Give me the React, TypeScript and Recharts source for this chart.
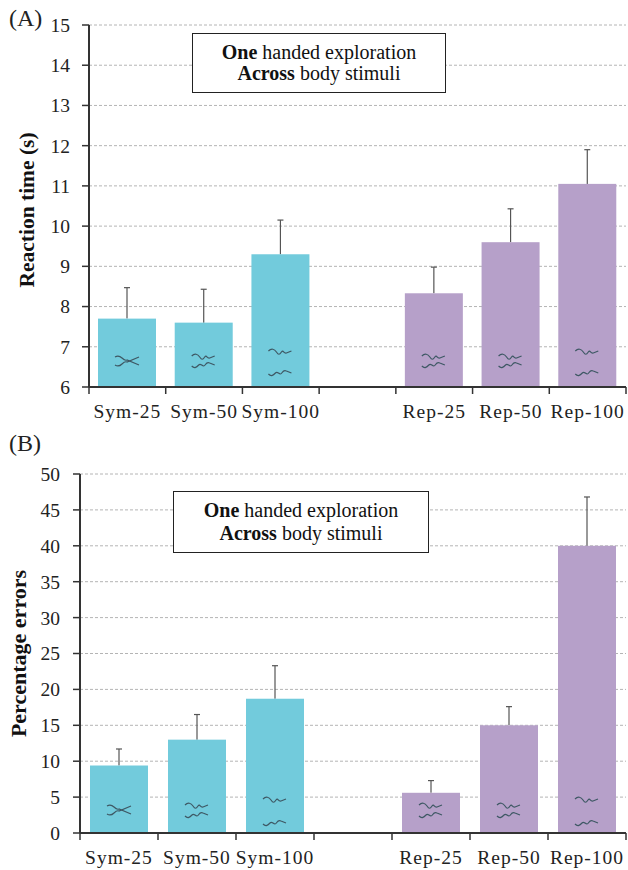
import { BarChart, Bar, XAxis, YAxis, CartesianGrid, Label } from 'recharts';

const categories = ['Sym-25', 'Sym-50', 'Sym-100', '', 'Rep-25', 'Rep-50', 'Rep-100'];
const groups = ['sym', 'sym', 'sym', null, 'rep', 'rep', 'rep'];
const stimuli = ['cross', 'near', 'far', null, 'near', 'near', 'far'];

const reactionValues = [7.7, 7.6, 9.3, null, 8.33, 9.6, 11.05];
const reactionErrors = [0.77, 0.83, 0.85, null, 0.65, 0.83, 0.85];
const reactionTicks = [6, 7, 8, 9, 10, 11, 12, 13, 14, 15];

const errorValues = [9.4, 13.0, 18.7, null, 5.6, 15.0, 40.0];
const errorErrors = [2.3, 3.5, 4.6, null, 1.7, 2.6, 6.8];
const errorTicks = [0, 5, 10, 15, 20, 25, 30, 35, 40, 45, 50];

const colors: Record<string, string> = { sym: '#72cbdc', rep: '#b6a0c9' };
const axisColor = '#333333';
const serif = '"Liberation Serif", serif';

const buildRows = (values: (number | null)[], errors: (number | null)[]) =>
  categories.map((name, i) => ({
    name,
    value: values[i],
    whisker: values[i] === null ? null : [values[i], (values[i] as number) + (errors[i] as number)],
    group: groups[i],
    stimulus: stimuli[i],
  }));

const WAVE_UP = 'c3,-3 6,-2 8,1 s3,3 5,0 s2,2 5,1 l5,-2';
const WAVE_DOWN = 'c3,3 5,1 7,-1 s3,1 5,1 s2,-5 6,-3 l5,2';

const BarWithStimulus = (props: any) => {
  const { x, y, width, height, payload, gapCross, gapNear, gapFar } = props;
  const cx = x + width / 2;
  const bottom = y + height;
  const kind = payload.stimulus;
  const wave = { fill: 'none', stroke: '#3e5864', strokeWidth: 1.2 };
  return (
    <g>
      <rect x={x} y={y} width={width} height={height} fill={colors[payload.group]} />
      {kind === 'cross' && (
        <g transform={`translate(${cx},${bottom - gapCross})`}>
          <path d="M-12,-4 C-9,-6 -7,-5 -5,-3 S-2,0 0,-1 L12,4" {...wave} />
          <path d="M-12,4 C-9,6 -7,5 -5,3 S-2,0 0,1 L12,-4" {...wave} />
        </g>
      )}
      {kind === 'near' && (
        <g transform={`translate(${cx - 12},${bottom})`}>
          <path d={`M0,${-gapNear[0]} ${WAVE_UP}`} {...wave} />
          <path d={`M0,${-gapNear[1]} ${WAVE_DOWN}`} {...wave} />
        </g>
      )}
      {kind === 'far' && (
        <g transform={`translate(${cx - 12},${bottom})`}>
          <path d={`M0,${-gapFar[0]} ${WAVE_UP}`} {...wave} />
          <path d={`M0,${-gapFar[1]} ${WAVE_DOWN}`} {...wave} />
        </g>
      )}
    </g>
  );
};

// upper half of an error bar: stem from the bar top, cap at value + error
const Whisker = ({ x, y, width, height }: any) => {
  const cx = x + width / 2;
  return (
    <g stroke="#555" strokeWidth={1.2}>
      <line x1={cx} x2={cx} y1={y} y2={y + height} />
      <line x1={cx - 3} x2={cx + 3} y1={y} y2={y} />
    </g>
  );
};

const CategoryTick = ({ x, y, payload, index, step, labelDy }: any) => {
  const left = x - step / 2;
  return (
    <g>
      <line x1={left} x2={left} y1={y - 8} y2={y - 1} stroke={axisColor} strokeWidth={1.5} />
      {index === categories.length - 1 && (
        <line x1={x + step / 2} x2={x + step / 2} y1={y - 8} y2={y - 1} stroke={axisColor} strokeWidth={1.5} />
      )}
      <text
        x={x}
        y={y + labelDy}
        textAnchor="middle"
        fontFamily={serif}
        fontSize={19.5}
        letterSpacing={1}
        fill="#222"
      >
        {payload.value}
      </text>
    </g>
  );
};

const Panel = ({ data, ticks, domain, yLabel, top, height, left, bottom, tickMargin, labelOffset, labelDy, labelSize, gapCross, gapNear, gapFar }: any) => {
  const step = (626 - left) / 7;
  return (
    <div style={{ position: 'absolute', left: 0, top }}>
      <BarChart
        width={628}
        height={height}
        data={data}
        barSize={58}
        barGap={-58}
        margin={{ top: top === 0 ? 25 : 44, right: 2, left: 0, bottom: 0 }}
      >
        <CartesianGrid vertical={false} stroke="#b4b4b4" strokeDasharray="3 2" />
        <XAxis
          dataKey="name"
          interval={0}
          height={bottom}
          axisLine={{ stroke: axisColor, strokeWidth: 2 }}
          tickLine={false}
          tick={<CategoryTick step={step} labelDy={23} />}
        />
        <YAxis
          width={left}
          domain={domain}
          ticks={ticks}
          interval={0}
          axisLine={{ stroke: axisColor, strokeWidth: 2 }}
          tickLine={{ stroke: axisColor, strokeWidth: 1.5 }}
          tickSize={7}
          tickMargin={tickMargin}
          tick={{ fontFamily: serif, fontSize: 19.5, fill: '#222' }}
        >
          <Label
            value={yLabel}
            angle={-90}
            position="insideLeft"
            offset={labelOffset}
            dy={labelDy}
            style={{ fontFamily: serif, fontSize: labelSize, fontWeight: 700, fill: '#111', textAnchor: 'middle' }}
          />
        </YAxis>
        <Bar dataKey="whisker" isAnimationActive={false} shape={<Whisker />} />
        <Bar
          dataKey="value"
          isAnimationActive={false}
          shape={(p: any) => <BarWithStimulus {...p} gapCross={gapCross} gapNear={gapNear} gapFar={gapFar} />}
        />
      </BarChart>
    </div>
  );
};

const NoteBox = ({ left, top, width, height, lineHeight }: any) => (
  <div
    style={{
      position: 'absolute',
      left,
      top,
      width,
      height,
      boxSizing: 'border-box',
      border: '1.5px solid #222',
      background: '#fff',
      fontFamily: serif,
      fontSize: 20,
      lineHeight,
      color: '#111',
      textAlign: 'center',
      display: 'flex',
      flexDirection: 'column',
      justifyContent: 'center',
    }}
  >
    <div><b>One</b> handed exploration</div>
    <div><b>Across</b> body stimuli</div>
  </div>
);

const PanelTag = ({ text, top }: any) => (
  <div style={{ position: 'absolute', left: 9, top, fontFamily: serif, fontSize: 24, color: '#222' }}>{text}</div>
);

export default function App() {
  return (
    <div style={{ position: 'absolute', left: 0, top: 0, width: 628, height: 870, background: '#fff' }}>
      <Panel
        data={buildRows(reactionValues, reactionErrors)}
        ticks={reactionTicks}
        domain={[6, 15]}
        yLabel="Reaction time (s)"
        top={0}
        height={430}
        left={89}
        bottom={43}
        tickMargin={12}
        labelOffset={26}
        labelDy={4}
        labelSize={21.5}
        gapCross={26}
        gapNear={[31, 21]}
        gapFar={[36, 13]}
      />
      <Panel
        data={buildRows(errorValues, errorErrors)}
        ticks={errorTicks}
        domain={[0, 50]}
        yLabel="Percentage errors"
        top={430}
        height={440}
        left={80}
        bottom={37}
        tickMargin={13}
        labelOffset={18}
        labelDy={0}
        labelSize={22}
        gapCross={23}
        gapNear={[28, 17]}
        gapFar={[34, 9]}
      />
      <NoteBox left={192} top={33} width={254} height={60} lineHeight="21px" />
      <NoteBox left={173} top={491} width={256} height={62} lineHeight="23px" />
      <PanelTag text="(A)" top={5} />
      <PanelTag text="(B)" top={430} />
    </div>
  );
}
